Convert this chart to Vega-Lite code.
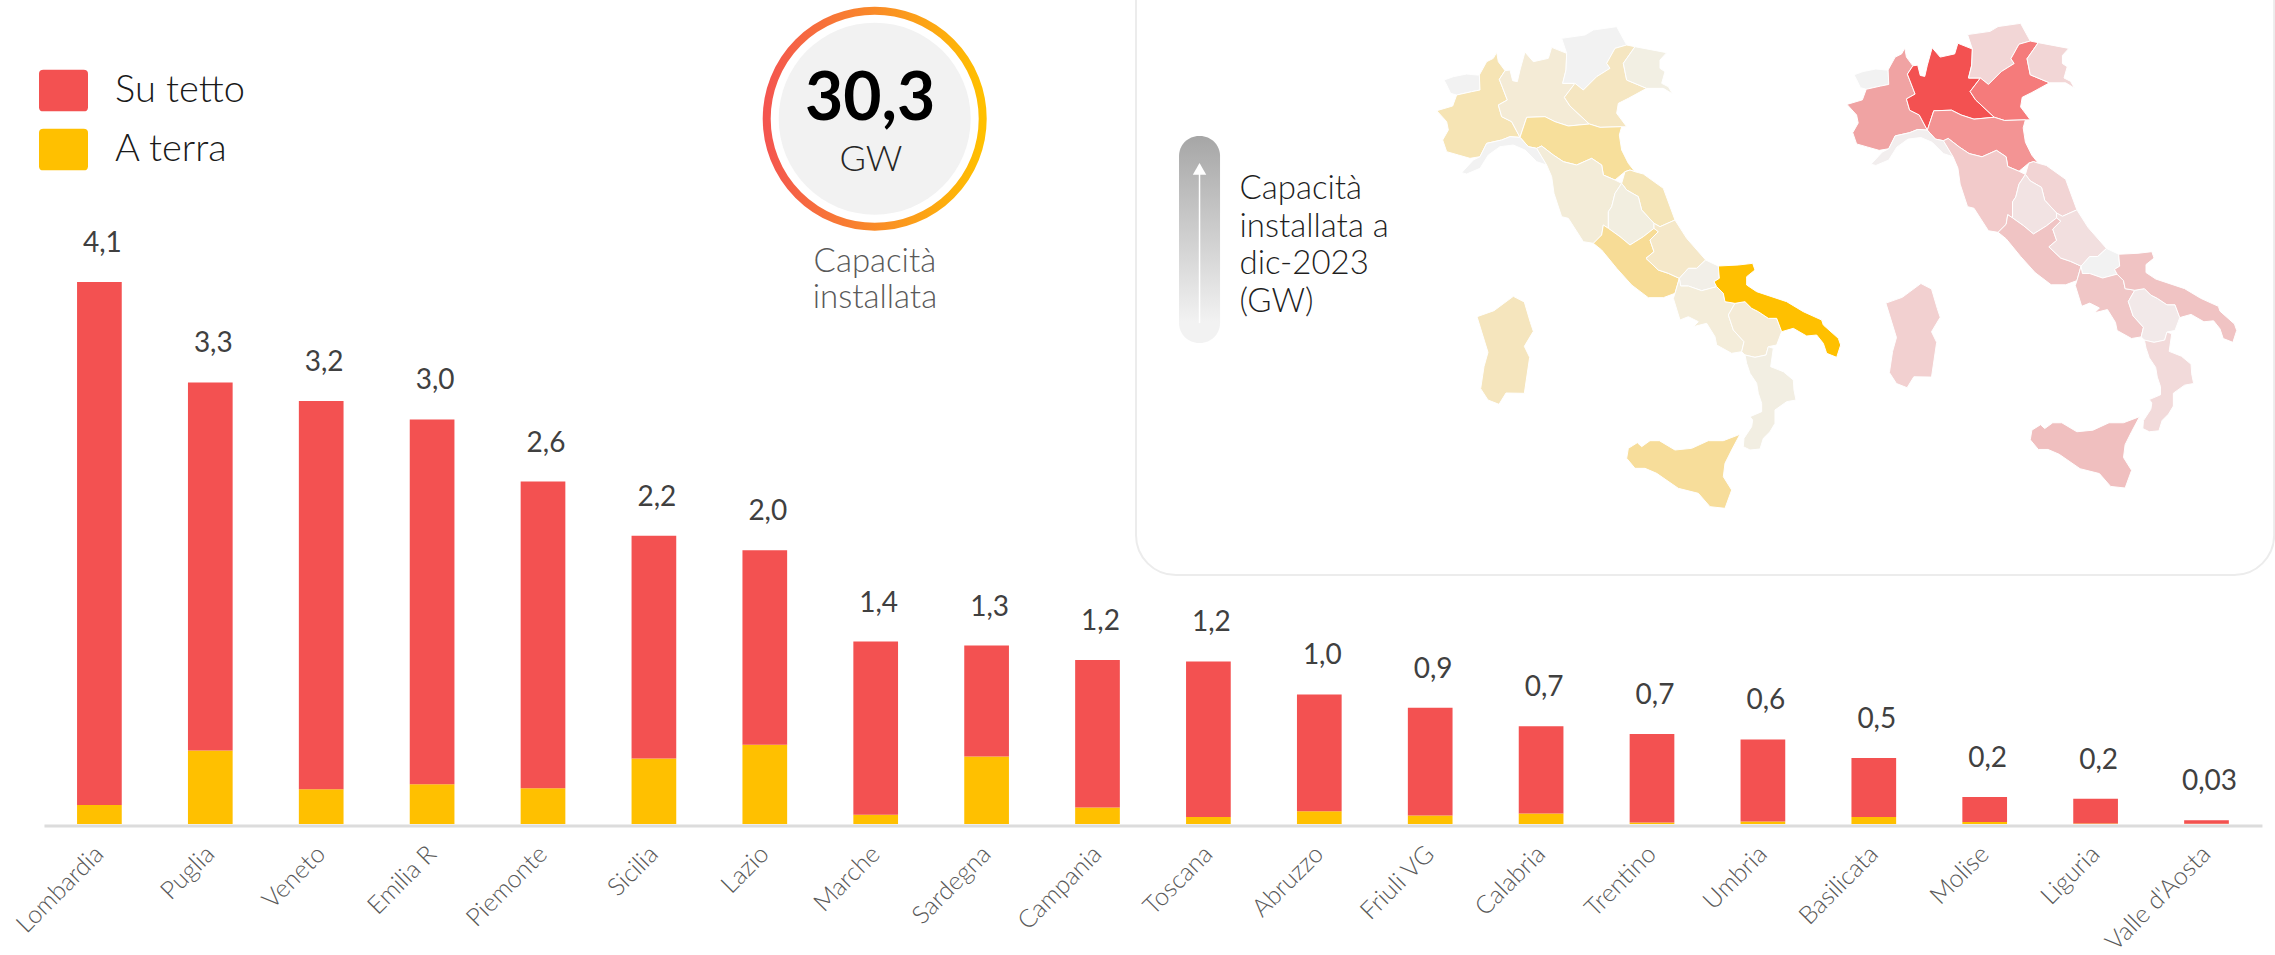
{
"$schema":"https://vega.github.io/schema/vega-lite/v6.json",
"width":2275,"height":955,"padding":0,"autosize":{"type":"none"},"background":"white",
"config":{"view":{"stroke":null},"font":"Lato"},
"datasets":{
"barre":[
{"regione":"Lombardia","tipo":"A terra","gw":0.144},{"regione":"Lombardia","tipo":"Su tetto","gw":3.956},
{"regione":"Puglia","tipo":"A terra","gw":0.556},{"regione":"Puglia","tipo":"Su tetto","gw":2.784},
{"regione":"Veneto","tipo":"A terra","gw":0.262},{"regione":"Veneto","tipo":"Su tetto","gw":2.938},
{"regione":"Emilia R","tipo":"A terra","gw":0.30},{"regione":"Emilia R","tipo":"Su tetto","gw":2.76},
{"regione":"Piemonte","tipo":"A terra","gw":0.27},{"regione":"Piemonte","tipo":"Su tetto","gw":2.32},
{"regione":"Sicilia","tipo":"A terra","gw":0.495},{"regione":"Sicilia","tipo":"Su tetto","gw":1.685},
{"regione":"Lazio","tipo":"A terra","gw":0.60},{"regione":"Lazio","tipo":"Su tetto","gw":1.47},
{"regione":"Marche","tipo":"A terra","gw":0.07},{"regione":"Marche","tipo":"Su tetto","gw":1.31},
{"regione":"Sardegna","tipo":"A terra","gw":0.51},{"regione":"Sardegna","tipo":"Su tetto","gw":0.84},
{"regione":"Campania","tipo":"A terra","gw":0.125},{"regione":"Campania","tipo":"Su tetto","gw":1.115},
{"regione":"Toscana","tipo":"A terra","gw":0.053},{"regione":"Toscana","tipo":"Su tetto","gw":1.177},
{"regione":"Abruzzo","tipo":"A terra","gw":0.097},{"regione":"Abruzzo","tipo":"Su tetto","gw":0.883},
{"regione":"Friuli VG","tipo":"A terra","gw":0.064},{"regione":"Friuli VG","tipo":"Su tetto","gw":0.816},
{"regione":"Calabria","tipo":"A terra","gw":0.079},{"regione":"Calabria","tipo":"Su tetto","gw":0.661},
{"regione":"Trentino","tipo":"A terra","gw":0.012},{"regione":"Trentino","tipo":"Su tetto","gw":0.668},
{"regione":"Umbria","tipo":"A terra","gw":0.018},{"regione":"Umbria","tipo":"Su tetto","gw":0.622},
{"regione":"Basilicata","tipo":"A terra","gw":0.053},{"regione":"Basilicata","tipo":"Su tetto","gw":0.447},
{"regione":"Molise","tipo":"A terra","gw":0.015},{"regione":"Molise","tipo":"Su tetto","gw":0.19},
{"regione":"Liguria","tipo":"A terra","gw":0.003},{"regione":"Liguria","tipo":"Su tetto","gw":0.187},
{"regione":"Valle d'Aosta","tipo":"A terra","gw":0.001},{"regione":"Valle d'Aosta","tipo":"Su tetto","gw":0.027}
],
"totali":[
{"regione":"Lombardia","totale":4.1,"etichetta":"4,1"},{"regione":"Puglia","totale":3.34,"etichetta":"3,3"},
{"regione":"Veneto","totale":3.2,"etichetta":"3,2"},{"regione":"Emilia R","totale":3.06,"etichetta":"3,0"},
{"regione":"Piemonte","totale":2.59,"etichetta":"2,6"},{"regione":"Sicilia","totale":2.18,"etichetta":"2,2"},
{"regione":"Lazio","totale":2.07,"etichetta":"2,0"},{"regione":"Marche","totale":1.38,"etichetta":"1,4"},
{"regione":"Sardegna","totale":1.35,"etichetta":"1,3"},{"regione":"Campania","totale":1.24,"etichetta":"1,2"},
{"regione":"Toscana","totale":1.23,"etichetta":"1,2"},{"regione":"Abruzzo","totale":0.98,"etichetta":"1,0"},
{"regione":"Friuli VG","totale":0.88,"etichetta":"0,9"},{"regione":"Calabria","totale":0.74,"etichetta":"0,7"},
{"regione":"Trentino","totale":0.68,"etichetta":"0,7"},{"regione":"Umbria","totale":0.64,"etichetta":"0,6"},
{"regione":"Basilicata","totale":0.5,"etichetta":"0,5"},{"regione":"Molise","totale":0.205,"etichetta":"0,2"},
{"regione":"Liguria","totale":0.19,"etichetta":"0,2"},{"regione":"Valle d'Aosta","totale":0.028,"etichetta":"0,03"}
],
"mappa":[
{"regione":"Valle d'Aosta","type":"Feature","geometry":{"type":"Polygon","coordinates":[[[6.72,45.7],[7.0,45.8],[7.4,45.88],[7.7,45.85],[7.78,45.85],[7.8,45.4],[7.55,45.35],[7.1,45.25],[6.92,45.3],[6.8,45.55],[6.72,45.7]]]}},
{"regione":"Piemonte","type":"Feature","geometry":{"type":"Polygon","coordinates":[[[8.3,46.53],[8.35,46.25],[8.55,45.98],[8.38,45.72],[8.62,45.1],[8.35,44.95],[8.45,44.6],[8.75,44.45],[9.0,43.98],[8.7,44.0],[8.45,43.9],[8.0,43.8],[7.8,43.4],[7.5,43.35],[7.15,43.45],[6.8,43.55],[6.68,43.9],[6.85,44.2],[6.8,44.45],[6.5,44.78],[6.98,44.92],[7.1,45.25],[7.55,45.35],[7.8,45.4],[7.78,45.85],[8.0,46.25],[8.2,46.35],[8.3,46.53]]]}},
{"regione":"Lombardia","type":"Feature","geometry":{"type":"Polygon","coordinates":[[[8.38,45.72],[8.55,45.98],[8.7,46.0],[8.78,45.68],[8.92,45.65],[9.0,46.0],[9.15,46.54],[9.4,46.25],[9.85,46.35],[9.95,46.68],[10.4,46.5],[10.38,46.0],[10.28,45.6],[10.65,45.6],[10.33,45.18],[10.5,44.92],[11.08,44.38],[10.45,44.32],[10.05,44.45],[9.75,44.6],[9.2,44.58],[9.0,43.98],[8.75,44.45],[8.45,44.6],[8.35,44.95],[8.62,45.1],[8.38,45.72]]]}},
{"regione":"Trentino","type":"Feature","geometry":{"type":"Polygon","coordinates":[[[10.25,46.95],[10.95,47.05],[11.2,47.2],[11.9,47.3],[12.2,46.75],[11.85,46.65],[11.6,46.2],[11.7,46.05],[11.3,45.8],[10.9,45.4],[10.65,45.6],[10.28,45.6],[10.38,46.0],[10.4,46.5],[10.25,46.95]]]}},
{"regione":"Veneto","type":"Feature","geometry":{"type":"Polygon","coordinates":[[[11.85,46.65],[12.2,46.75],[12.45,46.7],[12.1,46.2],[12.2,45.7],[12.8,45.45],[12.25,45.15],[11.95,45.0],[11.9,44.7],[12.2,44.3],[11.4,44.28],[11.08,44.38],[10.5,44.92],[10.33,45.18],[10.65,45.6],[10.9,45.4],[11.3,45.8],[11.7,46.05],[11.6,46.2],[11.85,46.65]]]}},
{"regione":"Friuli VG","type":"Feature","geometry":{"type":"Polygon","coordinates":[[[12.45,46.7],[13.4,46.52],[13.2,46.3],[13.2,46.05],[13.35,45.95],[13.25,45.6],[13.45,45.5],[13.58,45.28],[13.3,45.45],[12.8,45.45],[12.2,45.7],[12.1,46.2],[12.45,46.7]]]}},
{"regione":"Emilia R","type":"Feature","geometry":{"type":"Polygon","coordinates":[[[9.2,44.58],[9.75,44.6],[10.05,44.45],[10.45,44.32],[11.08,44.38],[11.4,44.28],[12.05,44.3],[11.98,44.05],[12.05,43.6],[12.25,43.2],[12.45,42.95],[12.3,43.0],[12.15,42.95],[11.85,42.7],[11.5,42.85],[11.45,43.15],[11.15,43.35],[10.7,43.15],[10.3,43.25],[10.0,43.45],[9.65,43.72],[9.5,43.65],[9.25,43.7],[9.0,43.98],[9.2,44.58]]]}},
{"regione":"Liguria","type":"Feature","geometry":{"type":"Polygon","coordinates":[[[7.25,42.92],[7.6,43.3],[7.8,43.4],[8.0,43.8],[8.45,43.9],[8.7,44.0],[9.0,43.98],[9.25,43.7],[9.5,43.65],[9.8,43.15],[9.5,43.25],[9.15,43.6],[8.8,43.75],[8.4,43.7],[8.05,43.45],[7.8,43.05],[7.4,42.88],[7.25,42.92]]]}},
{"regione":"Toscana","type":"Feature","geometry":{"type":"Polygon","coordinates":[[[9.5,43.65],[9.65,43.72],[10.0,43.45],[10.3,43.25],[10.7,43.15],[11.15,43.35],[11.45,43.15],[11.5,42.85],[11.85,42.7],[12.05,42.6],[11.85,42.3],[11.75,41.9],[11.65,41.75],[11.65,41.25],[11.5,41.35],[11.45,41.05],[11.2,40.8],[10.9,40.85],[10.45,41.55],[10.25,41.6],[10.02,42.3],[9.95,42.8],[9.8,43.15],[9.5,43.65]]]}},
{"regione":"Marche","type":"Feature","geometry":{"type":"Polygon","coordinates":[[[12.45,42.95],[12.7,42.88],[13.3,42.45],[13.65,41.5],[13.2,41.3],[13.02,41.4],[12.65,41.8],[12.55,42.2],[12.2,42.4],[12.05,42.6],[12.15,42.95],[12.3,43.0],[12.45,42.95]]]}},
{"regione":"Umbria","type":"Feature","geometry":{"type":"Polygon","coordinates":[[[11.85,42.3],[12.05,42.6],[12.2,42.4],[12.55,42.2],[12.65,41.8],[13.02,41.4],[13.02,41.25],[12.7,41.0],[12.3,40.75],[12.0,41.0],[11.65,41.25],[11.65,41.75],[11.75,41.9],[11.85,42.3]]]}},
{"regione":"Lazio","type":"Feature","geometry":{"type":"Polygon","coordinates":[[[11.2,40.8],[11.45,41.05],[11.5,41.35],[11.65,41.25],[12.0,41.0],[12.3,40.75],[12.7,41.0],[13.02,41.25],[13.15,41.15],[12.9,40.9],[13.02,40.55],[12.78,40.35],[13.15,40.0],[13.45,39.9],[13.78,39.75],[13.65,39.3],[13.3,39.17],[12.85,39.17],[12.35,39.55],[11.9,40.05],[11.45,40.6],[11.2,40.8]]]}},
{"regione":"Abruzzo","type":"Feature","geometry":{"type":"Polygon","coordinates":[[[13.65,41.5],[14.0,40.95],[14.57,40.3],[14.3,40.05],[14.05,40.05],[13.78,39.75],[13.45,39.9],[13.15,40.0],[12.78,40.35],[13.02,40.55],[12.9,40.9],[13.15,41.15],[13.02,41.25],[13.02,41.4],[13.2,41.3],[13.65,41.5]]]}},
{"regione":"Molise","type":"Feature","geometry":{"type":"Polygon","coordinates":[[[14.57,40.3],[14.95,40.12],[14.98,39.75],[14.82,39.65],[14.9,39.5],[14.45,39.38],[14.05,39.52],[13.82,39.52],[13.78,39.75],[14.05,40.05],[14.3,40.05],[14.57,40.3]]]}},
{"regione":"Campania","type":"Feature","geometry":{"type":"Polygon","coordinates":[[[13.78,39.75],[13.82,39.52],[14.05,39.52],[14.45,39.38],[14.9,39.5],[15.1,39.3],[15.15,39.05],[15.45,39.0],[15.25,38.65],[15.4,38.2],[15.72,37.85],[15.65,37.55],[15.35,37.5],[14.9,37.75],[14.85,38.0],[14.6,38.4],[14.2,38.3],[14.35,38.45],[14.05,38.6],[13.8,38.5],[13.6,39.15],[13.65,39.3],[13.78,39.75]]]}},
{"regione":"Basilicata","type":"Feature","geometry":{"type":"Polygon","coordinates":[[[15.45,39.0],[15.25,38.65],[15.4,38.2],[15.72,37.85],[15.65,37.55],[15.75,37.45],[16.05,37.38],[16.38,37.45],[16.45,37.7],[16.7,37.75],[16.85,38.15],[16.7,38.55],[16.45,38.55],[16.15,38.75],[15.95,38.85],[15.75,39.05],[15.45,39.0]]]}},
{"regione":"Puglia","type":"Feature","geometry":{"type":"Polygon","coordinates":[[[14.98,39.75],[14.95,40.12],[15.55,40.15],[15.98,40.2],[16.05,40.0],[15.8,39.8],[15.8,39.55],[16.1,39.35],[17.0,39.05],[17.5,38.75],[18.05,38.5],[18.1,38.35],[18.55,37.95],[18.62,37.75],[18.5,37.38],[18.2,37.5],[18.1,37.8],[17.9,38.05],[17.6,38.02],[17.2,38.25],[16.85,38.15],[16.7,38.55],[16.45,38.55],[16.15,38.75],[15.95,38.85],[15.75,39.05],[15.45,39.0],[15.15,39.05],[15.1,39.3],[14.9,39.5],[14.82,39.65],[14.98,39.75]]]}},
{"regione":"Calabria","type":"Feature","geometry":{"type":"Polygon","coordinates":[[[15.75,37.45],[16.05,37.38],[16.38,37.45],[16.45,37.7],[16.6,37.65],[16.52,37.1],[16.9,36.95],[17.2,36.7],[17.22,36.4],[17.28,36.1],[17.0,36.05],[16.65,35.8],[16.65,35.4],[16.5,35.15],[16.3,34.95],[16.2,34.63],[15.9,34.6],[15.7,34.7],[15.72,34.95],[15.95,35.3],[15.98,35.5],[15.9,35.6],[16.25,35.75],[16.25,36.0],[16.15,36.3],[16.1,36.6],[15.9,36.9],[15.8,37.2],[15.75,37.45]]]}},
{"regione":"Sicilia","type":"Feature","geometry":{"type":"Polygon","coordinates":[[[15.6,35.07],[15.35,34.6],[15.15,34.2],[15.1,33.8],[15.35,33.4],[15.15,32.85],[14.7,32.9],[14.35,33.3],[13.75,33.45],[13.1,33.9],[12.75,34.05],[12.45,34.05],[12.2,34.35],[12.25,34.65],[12.52,34.82],[12.65,34.7],[12.9,34.88],[13.18,34.88],[13.65,34.6],[14.15,34.65],[14.65,34.88],[15.1,34.88],[15.6,35.07]]]}},
{"regione":"Sardegna","type":"Feature","geometry":{"type":"Polygon","coordinates":[[[8.8,39.21],[9.13,39.04],[9.31,38.43],[9.4,38.16],[9.13,37.71],[9.29,37.38],[9.13,36.3],[8.58,36.31],[8.37,35.97],[8.04,36.1],[7.82,36.44],[7.92,37.1],[8.04,37.53],[7.71,38.6],[8.22,38.78],[8.8,39.21]]]}}
]
},
"resolve":{"scale":{"x":"independent","y":"independent","color":"independent"}},
"layer":[
{"data":{"values":[{"elemento":"pannello"}]},
 "mark":{"type":"rect","fill":"white","stroke":"#ececec","strokeWidth":2,"cornerRadius":40},
 "encoding":{
  "x":{"datum":9.347,"type":"quantitative","scale":{"domain":[-0.5,19.5],"range":[43.95,2261.95]},"axis":null},
  "x2":{"datum":19.61},
  "y":{"datum":6.69,"type":"quantitative","scale":{"domain":[-0.987,6.237],"range":[955,0]},"axis":null},
  "y2":{"datum":1.887}}},
{"data":{"name":"barre"},
 "mark":{"type":"bar","width":{"band":0.403}},
 "encoding":{
  "x":{"field":"regione","type":"nominal","sort":null,
   "scale":{"domain":["Lombardia","Puglia","Veneto","Emilia R","Piemonte","Sicilia","Lazio","Marche","Sardegna","Campania","Toscana","Abruzzo","Friuli VG","Calabria","Trentino","Umbria","Basilicata","Molise","Liguria","Valle d'Aosta"],"range":[43.95,2261.95],"paddingInner":0,"paddingOuter":0},
   "axis":{"title":null,"offset":-129.5,"ticks":false,"domainColor":"#dcdcdc","domainWidth":3,"labelAngle":-45,"labelAlign":"right","labelBaseline":"middle","labelFontSize":25,"labelColor":"#595959","labelPadding":24,"labelOverlap":false,"labelBound":false,"labelFlush":false,"labelFont":"Lato","labelFontWeight":300}},
  "y":{"field":"gw","type":"quantitative","stack":"zero","scale":{"domain":[-0.991,6.233],"range":[955,0]},"axis":null},
  "order":{"field":"tipo","sort":"ascending"},
  "color":{"field":"tipo","type":"nominal","scale":{"domain":["Su tetto","A terra"],"range":["#f35151","#ffc000"]},
   "legend":{"title":null,"orient":"none","legendX":39,"legendY":66,"padding":0,"symbolType":"M-1,-0.68Q-1,-0.85 -0.82,-0.85H0.82Q1,-0.85 1,-0.68V0.68Q1,0.85 0.82,0.85H-0.82Q-1,0.85 -1,0.68Z","symbolSize":2401,"symbolStrokeWidth":0,"symbolOpacity":1,"labelFontSize":38,"labelFont":"Lato","labelColor":"#1a1a1a","labelOffset":27,"rowPadding":13,"labelFontWeight":300}}}},
{"data":{"name":"totali"},
 "mark":{"type":"text","dx":3,"dy":-38,"fontSize":28,"color":"#404040","font":"Lato"},
 "encoding":{
  "x":{"field":"regione","type":"nominal","sort":null,
   "scale":{"domain":["Lombardia","Puglia","Veneto","Emilia R","Piemonte","Sicilia","Lazio","Marche","Sardegna","Campania","Toscana","Abruzzo","Friuli VG","Calabria","Trentino","Umbria","Basilicata","Molise","Liguria","Valle d'Aosta"],"range":[43.95,2261.95],"paddingInner":0,"paddingOuter":0},"axis":null},
  "y":{"field":"totale","type":"quantitative","scale":{"domain":[-0.991,6.233],"range":[955,0]},"axis":null},
  "text":{"field":"etichetta","type":"nominal"}}},
{"data":{"values":[{"elemento":"anello"}]},
 "mark":{"type":"point","filled":false,"opacity":1,"size":46656,"strokeWidth":8,"stroke":{"gradient":"linear","x1":0,"y1":0.5,"x2":1,"y2":0.5,"stops":[{"offset":0,"color":"#f4554f"},{"offset":1,"color":"#ffc000"}]}},
 "encoding":{
  "x":{"datum":6.991,"type":"quantitative","scale":{"domain":[-0.5,19.5],"range":[43.95,2261.95]},"axis":null},
  "y":{"datum":5.339,"type":"quantitative","scale":{"domain":[-0.987,6.237],"range":[955,0]},"axis":null}}},
{"data":{"values":[{"elemento":"disco"}]},
 "mark":{"type":"point","filled":true,"opacity":1,"size":36864,"color":"#f2f2f2"},
 "encoding":{
  "x":{"datum":6.991,"type":"quantitative","scale":{"domain":[-0.5,19.5],"range":[43.95,2261.95]},"axis":null},
  "y":{"datum":5.339,"type":"quantitative","scale":{"domain":[-0.987,6.237],"range":[955,0]},"axis":null}}},
{"data":{"values":[{"testo":"30,3"}]},
 "mark":{"type":"text","fontSize":66,"fontWeight":700,"color":"#000000","font":"Lato"},
 "encoding":{
  "x":{"datum":6.949,"type":"quantitative","scale":{"domain":[-0.5,19.5],"range":[43.95,2261.95]},"axis":null},
  "y":{"datum":5.48,"type":"quantitative","scale":{"domain":[-0.987,6.237],"range":[955,0]},"axis":null},
  "text":{"field":"testo","type":"nominal"}}},
{"data":{"values":[{"testo":"GW"}]},
 "mark":{"type":"text","fontSize":36,"fontWeight":300,"color":"#262626","font":"Lato"},
 "encoding":{
  "x":{"datum":6.957,"type":"quantitative","scale":{"domain":[-0.5,19.5],"range":[43.95,2261.95]},"axis":null},
  "y":{"datum":5.027,"type":"quantitative","scale":{"domain":[-0.987,6.237],"range":[955,0]},"axis":null},
  "text":{"field":"testo","type":"nominal"}}},
{"data":{"values":[{"elemento":"didascalia"}]},
 "mark":{"type":"text","text":["Capacità","installata"],"lineHeight":36,"fontSize":33,"fontWeight":300,"color":"#595959","font":"Lato"},
 "encoding":{
  "x":{"datum":6.993,"type":"quantitative","scale":{"domain":[-0.5,19.5],"range":[43.95,2261.95]},"axis":null},
  "y":{"datum":4.255,"type":"quantitative","scale":{"domain":[-0.987,6.237],"range":[955,0]},"axis":null}}},
{"data":{"values":[{"elemento":"scala"}]},
 "mark":{"type":"rect","cornerRadius":20,"fill":{"gradient":"linear","x1":0.5,"y1":0,"x2":0.5,"y2":1,"stops":[{"offset":0,"color":"#a6a6a6"},{"offset":0.9,"color":"#f2f2f2"},{"offset":1,"color":"#f2f2f2"}]}},
 "encoding":{
  "x":{"datum":9.735,"type":"quantitative","scale":{"domain":[-0.5,19.5],"range":[43.95,2261.95]},"axis":null},
  "x2":{"datum":10.105},
  "y":{"datum":5.208,"type":"quantitative","scale":{"domain":[-0.987,6.237],"range":[955,0]},"axis":null},
  "y2":{"datum":3.642}}},
{"data":{"values":[{"elemento":"freccia"}]},
 "mark":{"type":"rule","color":"white","strokeWidth":1.5},
 "encoding":{
  "x":{"datum":9.92,"type":"quantitative","scale":{"domain":[-0.5,19.5],"range":[43.95,2261.95]},"axis":null},
  "y":{"datum":4.951,"type":"quantitative","scale":{"domain":[-0.987,6.237],"range":[955,0]},"axis":null},
  "y2":{"datum":3.793}}},
{"data":{"values":[{"elemento":"punta"}]},
 "mark":{"type":"point","shape":"triangle-up","filled":true,"opacity":1,"size":180,"color":"white"},
 "encoding":{
  "x":{"datum":9.92,"type":"quantitative","scale":{"domain":[-0.5,19.5],"range":[43.95,2261.95]},"axis":null},
  "y":{"datum":4.96,"type":"quantitative","scale":{"domain":[-0.987,6.237],"range":[955,0]},"axis":null}}},
{"data":{"values":[{"elemento":"nota"}]},
 "mark":{"type":"text","text":["Capacità","installata a","dic-2023","(GW)"],"align":"left","lineHeight":37.7,"fontSize":33,"fontWeight":300,"color":"#1f1f1f","font":"Lato"},
 "encoding":{
  "x":{"datum":10.28,"type":"quantitative","scale":{"domain":[-0.5,19.5],"range":[43.95,2261.95]},"axis":null},
  "y":{"datum":4.807,"type":"quantitative","scale":{"domain":[-0.987,6.237],"range":[955,0]},"axis":null}}},
{"data":{"name":"mappa"},
 "projection":{"type":"identity","reflectY":true,"scale":33.333,"translate":[1220,1603.33]},
 "mark":{"type":"geoshape","stroke":"white","strokeWidth":1},
 "encoding":{"color":{"field":"regione","type":"nominal","legend":null,
  "scale":{"domain":["Puglia","Lazio","Sicilia","Emilia R","Sardegna","Piemonte","Veneto","Marche","Abruzzo","Lombardia","Campania","Basilicata","Toscana","Umbria","Friuli VG","Calabria","Molise","Trentino","Valle d'Aosta","Liguria"],
   "range":["#ffc000","#f7dc96","#f7dd9a","#f7df9b","#f5e5bd","#f6e4b4","#f5e6c1","#f5e5b8","#f5e8c9","#f4ebd6","#f4edda","#f4ebd7","#f3ecd8","#f2eee0","#f2efe3","#f2eee2","#f2efe8","#f2f2f2","#f2f2f2","#f2f2f2"]}}}},
{"data":{"name":"mappa"},
 "projection":{"type":"identity","reflectY":true,"reflectX":false,"scale":32.16,"translate":[1637.9,1544.5]},
 "mark":{"type":"geoshape","stroke":"white","strokeWidth":1},
 "encoding":{"color":{"field":"regione","type":"nominal","legend":null,
  "scale":{"domain":["Lombardia","Veneto","Emilia R","Piemonte","Sicilia","Puglia","Lazio","Campania","Toscana","Sardegna","Marche","Friuli VG","Trentino","Abruzzo","Calabria","Umbria","Basilicata","Molise","Liguria","Valle d'Aosta"],
   "range":["#f35151","#f57b7b","#f39494","#f0a3a3","#f0bfbf","#f0c3c3","#f0c4c4","#f0c6c6","#f2caca","#f2d0d0","#f2d4d4","#f2d6d6","#f2d6d6","#f2dfdf","#f2dada","#f2e3e3","#f2e9e9","#f2f2f2","#f2eeee","#f2f2f2"]}}}}
]
}
